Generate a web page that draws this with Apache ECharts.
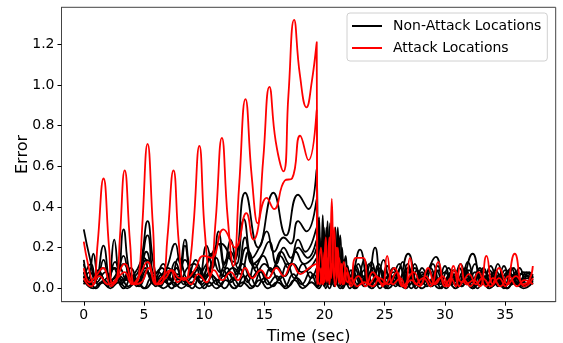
<!DOCTYPE html>
<html><head><meta charset="utf-8">
<script src="https://cdn.jsdelivr.net/npm/echarts@6/dist/echarts.min.js"></script>
<style>html,body{margin:0;padding:0;background:#fff}#c{width:563px;height:343px}</style>
</head><body><div id="c"></div>
<script>
const xTicks = [0,5,10,15,20,25,30,35];
const yTicks = [0,0.2,0.4,0.6,0.8,1.0,1.2];
const seriesNames = ['Non-Attack Locations','Attack Locations'];

// Non-attack (black) locations: [time, error]
const nonAttack1 = [[0,0.08],[0.7,0.02],[1.6,0.1],[2.5,0.03],[3.3,0.12],[4.2,0.03],[5.2,0.14],[6.1,0.03],[7.0,0.1],[7.8,0.05],[8.4,0.14],[9.3,0.05],[10.2,0.12],[11.4,0.22],[12.4,0.13],[13.4,0.47],[14.5,0.2],[15.75,0.47],[16.8,0.26],[17.8,0.46],[18.66,0.39],[19.35,0.59],[19.45,0.08],[19.55,0.35],[19.7,0.05],[19.85,0.36],[20.0,0.04],[20.15,0.3],[20.3,0.05],[20.45,0.32],[20.6,0.06],[20.8,0.26],[21.0,0.04],[21.2,0.22],[21.4,0.03],[21.6,0.12],[21.9,0.02],[22.3,0.06],[22.95,0.19],[23.6,0.03],[24.2,0.2],[24.8,0.03],[25.4,0.06],[26.0,0.02],[26.95,0.17],[27.8,0.02],[28.5,0.08],[29.25,0.155],[30.0,0.02],[30.6,0.06],[31.2,0.02],[32.3,0.17],[33.1,0.02],[33.8,0.07],[34.4,0.01],[35.2,0.08],[36.0,0.02],[36.7,0.06],[37.3,0.03]];
const nonAttack2 = [[0,0.29],[0.5,0.15],[1.0,0.04],[1.64,0.21],[2.1,0.06],[2.53,0.24],[2.9,0.08],[3.3,0.29],[3.8,0.08],[4.3,0.04],[4.8,0.15],[5.3,0.33],[5.8,0.12],[6.3,0.03],[6.9,0.1],[7.6,0.22],[8.0,0.12],[8.4,0.24],[8.9,0.08],[9.5,0.05],[10.2,0.21],[10.7,0.1],[11.2,0.28],[11.7,0.12],[12.2,0.24],[12.7,0.12],[13.3,0.34],[14.0,0.15],[14.65,0.21],[15.2,0.28],[15.8,0.18],[16.6,0.25],[17.2,0.22],[17.8,0.33],[18.5,0.28],[19.35,0.44],[19.42,0.05],[19.6,0.25],[19.75,0.03],[19.95,0.3],[20.1,0.05],[20.25,0.33],[20.4,0.04],[20.55,0.25],[20.7,0.03],[20.9,0.3],[21.05,0.05],[21.3,0.26],[21.5,0.04],[21.75,0.16],[22.0,0.03],[22.5,0.1],[23.1,0.02],[23.7,0.12],[24.3,0.03],[24.9,0.14],[25.5,0.02],[26.2,0.12],[26.8,0.03],[27.5,0.1],[28.1,0.02],[28.7,0.09],[29.3,0.02],[30.0,0.08],[30.6,0.03],[31.3,0.12],[31.9,0.02],[32.5,0.08],[33.1,0.02],[33.8,0.11],[34.4,0.03],[35.0,0.09],[35.6,0.02],[36.3,0.07],[37.3,0.05]];
const nonAttack3 = [[0,0.12],[0.4,0.05],[0.8,0.17],[1.2,0.06],[1.64,0.14],[2.2,0.04],[2.8,0.08],[3.3,0.16],[3.9,0.05],[4.6,0.09],[5.3,0.26],[5.9,0.07],[6.5,0.1],[7.0,0.05],[7.6,0.13],[8.0,0.08],[8.4,0.21],[9.0,0.06],[9.6,0.1],[10.1,0.05],[10.6,0.12],[11.2,0.22],[11.7,0.1],[12.2,0.18],[12.8,0.1],[13.4,0.25],[14.0,0.12],[14.65,0.15],[15.4,0.23],[16.0,0.12],[16.6,0.2],[17.2,0.15],[17.8,0.24],[18.4,0.18],[19.35,0.3],[19.42,0.04],[19.6,0.15],[19.8,0.02],[20.0,0.22],[20.2,0.03],[20.35,0.18],[20.5,0.02],[20.7,0.2],[20.9,0.03],[21.1,0.3],[21.25,0.03],[21.45,0.2],[21.65,0.03],[21.9,0.11],[22.2,0.02],[22.8,0.12],[23.4,0.03],[24.0,0.1],[24.6,0.02],[25.2,0.11],[25.8,0.03],[26.5,0.13],[27.1,0.02],[27.7,0.09],[28.3,0.03],[29.0,0.12],[29.6,0.02],[30.3,0.1],[30.9,0.02],[31.6,0.09],[32.2,0.03],[32.9,0.1],[33.5,0.02],[34.2,0.09],[34.8,0.03],[35.5,0.1],[36.1,0.02],[36.8,0.08],[37.3,0.04]];
const nonAttack4 = [[0,0.05],[0.6,0.12],[1.1,0.03],[1.8,0.08],[2.4,0.02],[3.0,0.1],[3.6,0.04],[4.3,0.08],[5.0,0.15],[5.6,0.05],[6.2,0.08],[6.8,0.03],[7.4,0.09],[8.0,0.04],[8.6,0.1],[9.2,0.12],[9.8,0.05],[10.4,0.08],[11.0,0.15],[11.6,0.06],[12.4,0.1],[13.0,0.07],[13.7,0.18],[14.4,0.08],[15.0,0.12],[15.6,0.09],[16.3,0.16],[17.0,0.1],[17.6,0.18],[18.3,0.12],[19.0,0.15],[19.35,0.2],[19.42,0.03],[19.65,0.12],[19.85,0.02],[20.05,0.15],[20.25,0.02],[20.5,0.18],[20.65,0.03],[20.85,0.14],[21.0,0.02],[21.2,0.17],[21.4,0.02],[21.7,0.09],[22.0,0.02],[22.4,0.08],[23.0,0.02],[23.5,0.07],[24.1,0.01],[24.7,0.09],[25.3,0.02],[25.9,0.07],[26.4,0.01],[27.0,0.08],[27.6,0.02],[28.2,0.07],[28.8,0.01],[29.5,0.09],[30.1,0.02],[30.8,0.07],[31.4,0.01],[32.0,0.09],[32.6,0.02],[33.3,0.08],[33.9,0.01],[34.6,0.07],[35.2,0.02],[35.9,0.08],[36.5,0.01],[37.3,0.07]];
const nonAttack5 = [[0,0.03],[0.5,0.08],[1.2,0.02],[1.9,0.05],[2.6,0.1],[3.2,0.03],[3.9,0.06],[4.5,0.02],[5.2,0.09],[5.8,0.03],[6.4,0.05],[7.1,0.02],[7.8,0.07],[8.5,0.03],[9.1,0.06],[9.8,0.02],[10.5,0.07],[11.2,0.04],[11.9,0.1],[12.5,0.04],[13.2,0.12],[13.9,0.05],[14.6,0.09],[15.3,0.05],[16.0,0.11],[16.7,0.06],[17.4,0.12],[18.1,0.08],[18.8,0.1],[19.35,0.15],[19.42,0.02],[19.7,0.16],[19.9,0.02],[20.15,0.2],[20.35,0.02],[20.6,0.16],[20.85,0.02],[21.05,0.12],[21.3,0.02],[21.6,0.1],[22.0,0.02],[22.6,0.11],[23.2,0.02],[23.9,0.13],[24.5,0.02],[25.1,0.08],[25.7,0.02],[26.3,0.1],[26.9,0.02],[27.5,0.12],[28.1,0.02],[28.8,0.1],[29.4,0.02],[30.0,0.11],[30.6,0.02],[31.2,0.1],[31.8,0.02],[32.5,0.12],[33.1,0.02],[33.7,0.09],[34.3,0.02],[34.9,0.11],[35.5,0.02],[36.2,0.1],[36.8,0.02],[37.3,0.06]];
const nonAttack6 = [[0,0.06],[0.6,0.01],[1.3,0.07],[2.0,0.01],[2.6,0.05],[3.3,0.0],[4.0,0.06],[4.6,0.01],[5.3,0.08],[6.0,0.01],[6.6,0.04],[7.3,0.0],[8.0,0.06],[8.7,0.01],[9.4,0.05],[10.0,0.0],[10.7,0.06],[11.3,0.01],[12.0,0.07],[12.7,0.01],[13.3,0.06],[14.0,0.01],[14.7,0.08],[15.3,0.02],[16.0,0.06],[16.7,0.01],[17.4,0.07],[18.1,0.02],[18.8,0.08],[19.4,0.01],[19.7,0.1],[20.0,0.01],[20.3,0.12],[20.6,0.02],[20.9,0.1],[21.2,0.01],[21.6,0.07],[22.1,0.0],[22.7,0.06],[23.3,0.01],[24.0,0.07],[24.6,0.0],[25.3,0.06],[25.9,0.01],[26.6,0.07],[27.2,0.0],[27.9,0.06],[28.5,0.01],[29.1,0.06],[29.7,0.0],[30.4,0.07],[31.0,0.01],[31.6,0.05],[32.3,0.0],[32.9,0.07],[33.6,0.01],[34.2,0.06],[34.9,0.0],[35.5,0.07],[36.2,0.01],[36.8,0.05],[37.3,0.02]];
const nonAttack7 = [[0,0.02],[0.4,0.05],[1.0,0.0],[1.7,0.04],[2.3,0.01],[3.0,0.06],[3.7,0.01],[4.3,0.04],[5.0,0.0],[5.6,0.05],[6.3,0.01],[7.0,0.06],[7.6,0.01],[8.3,0.04],[9.0,0.0],[9.7,0.07],[10.4,0.01],[11.0,0.04],[11.7,0.0],[12.4,0.05],[13.0,0.01],[13.7,0.07],[14.4,0.01],[15.0,0.05],[15.7,0.01],[16.4,0.06],[17.0,0.01],[17.7,0.05],[18.4,0.01],[19.1,0.07],[19.5,0.01],[19.8,0.08],[20.1,0.0],[20.5,0.09],[20.8,0.01],[21.1,0.06],[21.5,0.0],[22.0,0.05],[22.6,0.0],[23.2,0.06],[23.8,0.01],[24.4,0.05],[25.1,0.0],[25.7,0.06],[26.3,0.01],[27.0,0.05],[27.6,0.0],[28.2,0.06],[28.9,0.01],[29.5,0.05],[30.1,0.0],[30.8,0.06],[31.4,0.01],[32.0,0.05],[32.7,0.0],[33.3,0.06],[33.9,0.01],[34.6,0.05],[35.2,0.0],[35.9,0.06],[36.5,0.01],[37.3,0.04]];
const nonAttack8 = [[0,0.04],[0.8,0.0],[1.5,0.03],[2.2,0.0],[2.9,0.03],[3.6,0.0],[4.4,0.03],[5.1,0.0],[5.9,0.04],[6.6,0.0],[7.4,0.03],[8.1,0.0],[8.9,0.03],[9.6,0.0],[10.4,0.03],[11.0,0.0],[11.8,0.04],[12.5,0.0],[13.2,0.03],[13.9,0.0],[14.6,0.04],[15.3,0.0],[16.1,0.03],[16.8,0.0],[17.5,0.04],[18.2,0.0],[18.9,0.03],[19.5,0.0],[20.0,0.05],[20.4,0.0],[20.8,0.06],[21.3,0.0],[21.9,0.04],[22.5,0.0],[23.2,0.04],[23.9,0.0],[24.6,0.03],[25.3,0.0],[26.0,0.04],[26.7,0.0],[27.4,0.03],[28.1,0.0],[28.8,0.04],[29.5,0.0],[30.2,0.03],[30.9,0.0],[31.6,0.04],[32.3,0.0],[33.0,0.03],[33.7,0.0],[34.4,0.04],[35.1,0.0],[35.8,0.03],[36.5,0.0],[37.3,0.03]];
const nonAttack9 = [[0,0.08],[0.5,0.02],[1.2,0.09],[1.9,0.02],[2.5,0.1],[3.1,0.02],[3.8,0.07],[4.4,0.01],[5.1,0.1],[5.8,0.02],[6.5,0.07],[7.1,0.02],[7.7,0.1],[8.3,0.02],[9.0,0.08],[9.7,0.03],[10.3,0.1],[11.0,0.02],[11.6,0.09],[12.2,0.03],[12.9,0.1],[13.6,0.03],[14.2,0.12],[14.9,0.03],[15.5,0.1],[16.2,0.04],[16.9,0.12],[17.5,0.05],[18.2,0.12],[18.9,0.05],[19.35,0.1],[19.45,0.01],[19.7,0.14],[19.95,0.01],[20.2,0.18],[20.45,0.02],[20.7,0.13],[21.0,0.02],[21.3,0.12],[21.6,0.01],[22.0,0.07],[22.6,0.01],[23.3,0.09],[23.9,0.02],[24.5,0.1],[25.1,0.01],[25.7,0.08],[26.3,0.02],[26.9,0.1],[27.5,0.01],[28.1,0.08],[28.7,0.02],[29.3,0.09],[29.9,0.01],[30.5,0.08],[31.1,0.02],[31.7,0.1],[32.3,0.01],[32.9,0.09],[33.5,0.02],[34.1,0.08],[34.7,0.01],[35.3,0.09],[35.9,0.02],[36.5,0.08],[37.3,0.06]];
const nonAttack10 = [[0,0.14],[0.6,0.03],[1.2,0.08],[1.9,0.02],[2.6,0.13],[3.2,0.04],[3.9,0.1],[4.5,0.03],[5.2,0.18],[5.9,0.04],[6.6,0.12],[7.2,0.04],[7.9,0.15],[8.6,0.05],[9.3,0.14],[9.9,0.06],[10.6,0.17],[11.3,0.08],[12.0,0.15],[12.7,0.07],[13.5,0.2],[14.2,0.1],[14.9,0.16],[15.6,0.08],[16.4,0.18],[17.1,0.12],[17.8,0.2],[18.6,0.15],[19.35,0.24],[19.43,0.02],[19.65,0.2],[19.9,0.02],[20.1,0.26],[20.3,0.02],[20.6,0.28],[20.8,0.03],[21.0,0.18],[21.3,0.02],[21.55,0.14],[21.8,0.02],[22.2,0.09],[22.7,0.02],[23.3,0.14],[23.9,0.02],[24.5,0.12],[25.1,0.02],[25.7,0.1],[26.3,0.02],[26.9,0.12],[27.5,0.02],[28.1,0.1],[28.8,0.01],[29.4,0.11],[30.0,0.02],[30.7,0.09],[31.3,0.02],[31.9,0.13],[32.6,0.02],[33.2,0.1],[33.8,0.02],[34.4,0.12],[35.0,0.02],[35.7,0.1],[36.3,0.02],[37.0,0.08],[37.3,0.05]];

// Attack (red) locations: [time, error]
const attack1 = [[0,0.23],[0.35,0.12],[0.8,0.02],[1.15,0.22],[1.64,0.54],[2.1,0.2],[2.4,0.02],[2.75,0.04],[3.0,0.25],[3.4,0.58],[3.85,0.22],[4.2,0.02],[4.55,0.05],[4.85,0.3],[5.3,0.71],[5.75,0.3],[6.1,0.02],[6.55,0.03],[6.95,0.25],[7.45,0.58],[7.9,0.22],[8.3,0.04],[8.65,0.06],[9.1,0.3],[9.6,0.70],[10.05,0.28],[10.5,0.06],[10.95,0.33],[11.47,0.74],[11.95,0.35],[12.43,0.11],[12.9,0.5],[13.43,0.93],[13.95,0.55],[14.43,0.32],[14.9,0.63],[15.42,0.99],[15.95,0.72],[16.58,0.575],[17.0,0.95],[17.47,1.32],[17.95,1.05],[18.5,0.89],[18.95,1.02],[19.35,1.21],[19.4,0.05],[19.6,0.02],[19.8,0.1],[20.0,0.03],[20.2,0.15],[20.4,0.02],[20.6,0.44],[20.8,0.05],[21.0,0.2],[21.2,0.03],[21.4,0.12],[21.6,0.02],[21.9,0.08],[22.2,0.02],[22.6,0.15],[23.2,0.15],[23.7,0.02],[24.3,0.06],[24.8,0.01],[25.2,0.16],[25.7,0.02],[26.3,0.05],[26.7,0.0],[27.1,0.15],[27.6,0.02],[28.2,0.05],[28.8,0.01],[29.45,0.13],[30.0,0.01],[30.5,0.05],[30.9,0.01],[31.3,0.12],[31.8,0.02],[32.4,0.04],[32.9,0.01],[33.45,0.16],[34.0,0.02],[34.5,0.05],[35.0,0.01],[35.8,0.17],[36.5,0.02],[37.0,0.04],[37.3,0.11]];
const attack2 = [[0,0.05],[0.6,0.01],[1.3,0.06],[2.0,0.02],[2.6,0.04],[3.4,0.12],[4.2,0.02],[4.8,0.03],[5.4,0.10],[6.1,0.02],[6.8,0.05],[7.3,0.09],[8.0,0.05],[8.5,0.05],[9.2,0.09],[9.95,0.16],[10.6,0.15],[11.6,0.29],[12.57,0.20],[13.5,0.37],[14.1,0.24],[15.2,0.445],[15.8,0.39],[16.7,0.53],[17.3,0.54],[17.97,0.75],[18.66,0.63],[19.35,0.88],[19.4,0.05],[19.6,0.1],[19.8,0.02],[20.0,0.18],[20.2,0.03],[20.4,0.25],[20.55,0.05],[20.8,0.3],[21.0,0.05],[21.2,0.15],[21.5,0.02],[21.8,0.1],[22.2,0.01],[22.8,0.06],[23.4,0.01],[24.0,0.08],[24.6,0.03],[25.0,0.02],[25.8,0.1],[26.5,0.01],[27.4,0.08],[28.0,0.02],[28.6,0.1],[29.2,0.02],[29.8,0.06],[30.3,0.01],[30.8,0.09],[31.4,0.03],[32.0,0.07],[32.6,0.02],[33.1,0.05],[33.8,0.01],[34.5,0.1],[35.2,0.02],[35.9,0.06],[36.6,0.01],[37.3,0.05]];
const attack3 = [[0,0.1],[0.5,0.03],[1.0,0.06],[1.6,0.10],[2.3,0.01],[2.8,0.05],[3.4,0.08],[4.0,0.02],[4.6,0.06],[5.3,0.13],[6.0,0.02],[6.6,0.06],[7.2,0.09],[7.8,0.03],[8.3,0.05],[8.9,0.02],[9.5,0.07],[10.2,0.03],[10.8,0.09],[11.5,0.04],[12.2,0.08],[12.8,0.04],[13.4,0.1],[14.0,0.05],[14.7,0.09],[15.3,0.05],[16.0,0.1],[16.6,0.06],[17.3,0.12],[18.0,0.07],[18.7,0.1],[19.35,0.12],[19.4,0.02],[19.7,0.2],[19.9,0.02],[20.1,0.25],[20.3,0.04],[20.6,0.12],[20.9,0.01],[21.1,0.2],[21.3,0.02],[21.6,0.13],[21.9,0.03],[22.2,0.05],[22.7,0.01],[23.3,0.03],[24.0,0.01],[24.6,0.05],[25.3,0.02],[26.0,0.08],[26.6,0.01],[27.2,0.04],[27.9,0.01],[28.4,0.06],[29.0,0.02],[29.6,0.05],[30.2,0.01],[30.7,0.11],[31.2,0.01],[31.6,0.04],[32.1,0.01],[32.8,0.08],[33.4,0.01],[34.0,0.05],[34.6,0.01],[35.3,0.06],[36.0,0.01],[36.6,0.04],[37.3,0.02]];

const blackSets = [nonAttack1,nonAttack2,nonAttack3,nonAttack4,nonAttack5,nonAttack6,nonAttack7,nonAttack8,nonAttack9,nonAttack10];
const redSets = [attack1,attack2,attack3];

const mk = (name, data, color) => ({
  name, type:'line', data, symbol:'none', showSymbol:false, smooth:0.5,
  lineStyle:{color, width:1.8}, itemStyle:{color}, color
});
const series = [];
blackSets.forEach(d => series.push(mk(seriesNames[0], d, '#000000')));
redSets.forEach(d => series.push(mk(seriesNames[1], d, '#ff0000')));

const chart = echarts.init(document.getElementById('c'), null, {renderer:'canvas'});
const font = 'DejaVu Sans';
chart.setOption({
  animation:false,
  backgroundColor:'#fff',
  textStyle:{fontFamily:font},
  grid:{left:61.5, right:7.3, top:7.3, bottom:41.3, show:true, borderColor:'#444', borderWidth:1, containLabel:false, outerBoundsMode:'none'},
  legend:{
    data:[{name:seriesNames[0], icon:'rect'},{name:seriesNames[1], icon:'rect'}],
    orient:'vertical', left:347, top:13, itemWidth:30, itemHeight:2, itemGap:8,
    padding:[6,6,6,5], backgroundColor:'rgba(255,255,255,0.85)', borderColor:'#d0d0d0', borderWidth:1, borderRadius:3,
    textStyle:{fontFamily:font, fontSize:14, color:'#000', padding:[0,0,0,6]}
  },
  xAxis:{type:'value', min:-1.85, max:39.2,
    name:'Time (sec)', nameLocation:'middle', nameGap:27, nameMoveOverlap:false, nameTextStyle:{fontFamily:font, fontSize:16, color:'#000'},
    axisLine:{show:true, onZero:false, lineStyle:{color:'#444', width:1}}, splitLine:{show:false},
    axisTick:{show:true, customValues:xTicks, length:4, lineStyle:{color:'#000'}},
    axisLabel:{customValues:xTicks, fontFamily:font, fontSize:14, color:'#000', margin:7}
  },
  yAxis:{type:'value', min:-0.0656, max:1.3815,
    name:'Error', nameLocation:'middle', nameGap:31, nameMoveOverlap:false, nameRotate:90, nameTextStyle:{fontFamily:font, fontSize:16, color:'#000'},
    axisLine:{show:true, onZero:false, lineStyle:{color:'#444', width:1}}, splitLine:{show:false},
    axisTick:{show:true, customValues:yTicks, length:4, lineStyle:{color:'#000'}},
    axisLabel:{customValues:yTicks, fontFamily:font, fontSize:14, color:'#000', margin:7, formatter:v=>v.toFixed(1)}
  },
  series
});
</script></body></html>
